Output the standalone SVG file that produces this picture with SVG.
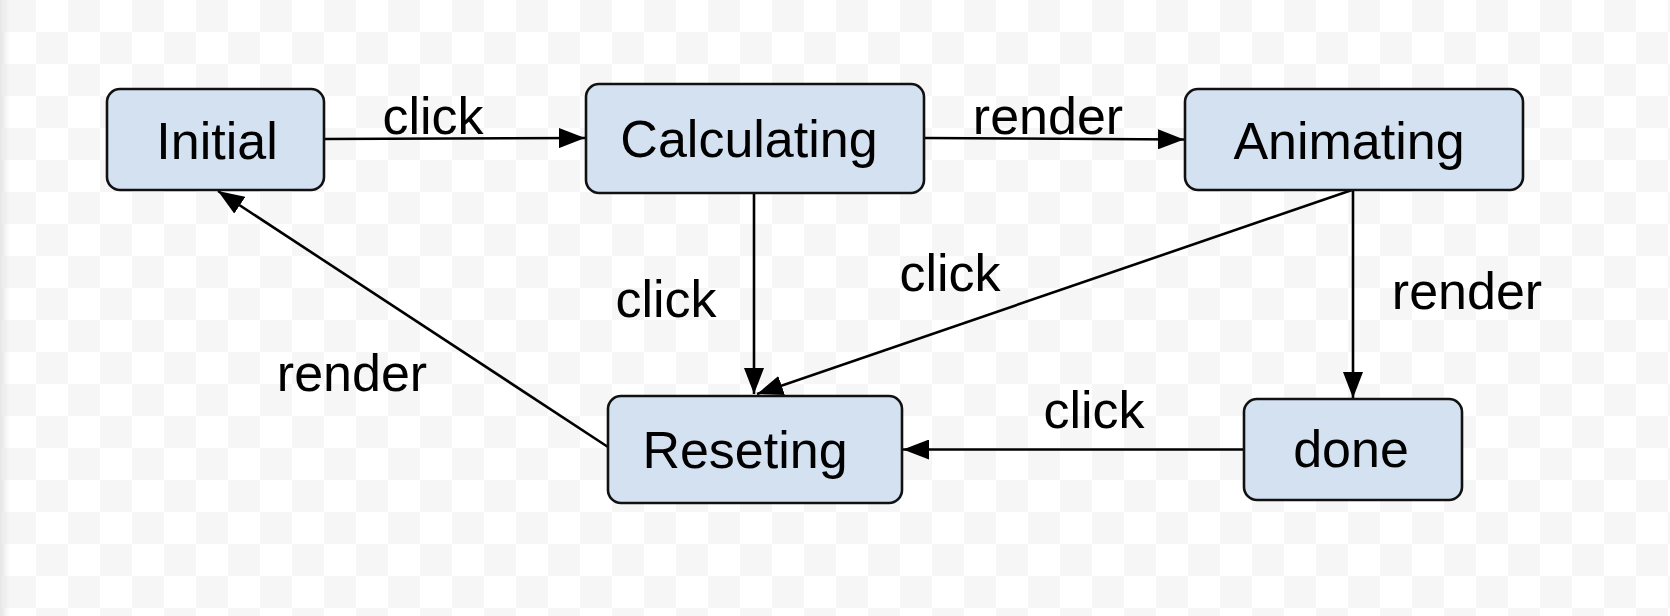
<svg xmlns="http://www.w3.org/2000/svg" width="1670" height="616" viewBox="0 0 1670 616">
<defs>
<pattern id="checker" x="4" y="0" width="64" height="64" patternUnits="userSpaceOnUse">
<rect x="0" y="0" width="64" height="64" fill="#ffffff"/>
<rect x="0" y="0" width="32" height="32" fill="#f6f6f6"/>
<rect x="32" y="32" width="32" height="32" fill="#f6f6f6"/>
</pattern>
<linearGradient id="edge" x1="0" y1="0" x2="1" y2="0">
<stop offset="0" stop-color="#e6e6e6"/>
<stop offset="1" stop-color="#e6e6e6" stop-opacity="0"/>
</linearGradient>
<marker id="arrow" markerUnits="userSpaceOnUse" markerWidth="26" markerHeight="20" refX="26" refY="10" orient="auto">
<path d="M0,0 L26,10 L0,20 z" fill="#000"/>
</marker>
</defs>
<style>
.node rect { fill: #d4e1f1; stroke: #111; stroke-width: 2.6; }
.node text, .label { font-family: "Liberation Sans", Arial, sans-serif; font-size: 52px; fill: #000; }
.node text { text-anchor: middle; }
.label { text-anchor: middle; }
#connectors path { fill: none; stroke: #000; stroke-width: 2.6; marker-end: url(#arrow); }
</style>
<rect width="1670" height="616" fill="url(#checker)"/>
<rect x="0" y="0" width="10" height="616" fill="url(#edge)"/>

<g id="connectors">
<path d="M324,139 L585,138"/>
<path d="M924,138 L1184,139.5"/>
<path d="M754,193 L754,394"/>
<path d="M1352,190 L757,394"/>
<path d="M1353,190 L1353,398"/>
<path d="M1244,449.5 L903,449.5"/>
<path d="M608,447 L218,191"/>
</g>

<g id="labels">
<text class="label" x="433" y="134">click</text>
<text class="label" x="1048" y="134">render</text>
<text class="label" x="666" y="317">click</text>
<text class="label" x="950" y="291">click</text>
<text class="label" x="1467" y="309">render</text>
<text class="label" x="352" y="391">render</text>
<text class="label" x="1094" y="428">click</text>
</g>

<g id="node-initial" class="node">
<rect x="107" y="89" width="217" height="101" rx="13" ry="13"/>
<text x="217" y="159">Initial</text>
</g>
<g id="node-calculating" class="node">
<rect x="586" y="84" width="338" height="109" rx="13" ry="13"/>
<text x="749" y="157">Calculating</text>
</g>
<g id="node-animating" class="node">
<rect x="1185" y="89" width="338" height="101" rx="13" ry="13"/>
<text x="1349" y="159">Animating</text>
</g>
<g id="node-reseting" class="node">
<rect x="608" y="396" width="294" height="107" rx="13" ry="13"/>
<text x="745" y="468">Reseting</text>
</g>
<g id="node-done" class="node">
<rect x="1244" y="399" width="218" height="101" rx="13" ry="13"/>
<text x="1351" y="467">done</text>
</g>
</svg>
